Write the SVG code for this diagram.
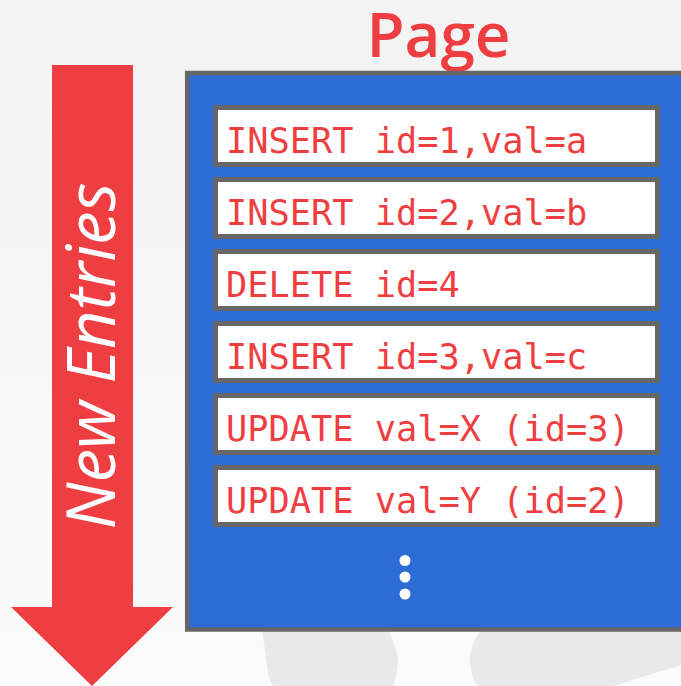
<svg xmlns="http://www.w3.org/2000/svg" width="681" height="686" viewBox="0 0 681 686">
  <defs>
    <linearGradient id="bg" x1="0" y1="0" x2="0" y2="1">
      <stop offset="0" stop-color="#f3f3f3"/>
      <stop offset="1" stop-color="#fbfbfb"/>
    </linearGradient>
    <style>
      .entry rect { fill: #ffffff; stroke: #666666; stroke-width: 5; }
      .entry text { font-family: "DejaVu Sans Mono", "Liberation Mono", monospace; font-size: 35.3px; fill: #ef3e42; }
      .dot { fill: #ffffff; }
      .blob { fill: #e9e9e9; }
    </style>
  </defs>
  <rect width="681" height="686" fill="url(#bg)"/>
  <g id="background-shapes">
    <path class="blob" d="M258 600 L268 672 Q270 686 276 686 L393 686 Q402 660 394 645 Q385 615 360 600 Z"/>
    <path class="blob" d="M500 610 Q466 640 470 665 Q472 680 478 686 L613 686 L681 665 L681 610 Z"/>
  </g>
  <g id="title">
    <text x="438.5" y="57" text-anchor="middle" font-family="'Open Sans', 'Noto Sans', sans-serif" font-weight="600" font-size="62" fill="#ef3e42">Page</text>
  </g>
  <g id="new-entries-arrow">
    <polygon points="52,65 133,65 133,607 173,607 92,686 11,607 52,607" fill="#ef3e42"/>
    <text transform="translate(115,356) rotate(-90)" text-anchor="middle" font-family="'Open Sans', 'Noto Sans', sans-serif" font-style="italic" font-weight="400" font-size="67" fill="#ffffff">New Entries</text>
  </g>
  <g id="page">
    <rect x="187.2" y="73" width="520" height="556.5" fill="#2d6cd7" stroke="#666666" stroke-width="4.5"/>
  </g>
  <g id="entry1" class="entry">
    <rect x="215.5" y="107.5" width="442" height="57"/>
    <text x="226" y="152.5">INSERT id=1,val=a</text>
  </g>
  <g id="entry2" class="entry">
    <rect x="215.5" y="179.5" width="442" height="57"/>
    <text x="226" y="224.5">INSERT id=2,val=b</text>
  </g>
  <g id="entry3" class="entry">
    <rect x="215.5" y="251.5" width="442" height="57"/>
    <text x="226" y="296.5">DELETE id=4</text>
  </g>
  <g id="entry4" class="entry">
    <rect x="215.5" y="323.5" width="442" height="57"/>
    <text x="226" y="368.5">INSERT id=3,val=c</text>
  </g>
  <g id="entry5" class="entry">
    <rect x="215.5" y="395.5" width="442" height="57"/>
    <text x="226" y="440.5">UPDATE val=X (id=3)</text>
  </g>
  <g id="entry6" class="entry">
    <rect x="215.5" y="467.5" width="442" height="57"/>
    <text x="226" y="512.5">UPDATE val=Y (id=2)</text>
  </g>
  <g id="ellipsis">
    <circle class="dot" cx="405" cy="560.5" r="5.5"/>
    <circle class="dot" cx="405" cy="577" r="5.5"/>
    <circle class="dot" cx="405" cy="594" r="5.5"/>
  </g>
  <g id="connectors"/>
</svg>
